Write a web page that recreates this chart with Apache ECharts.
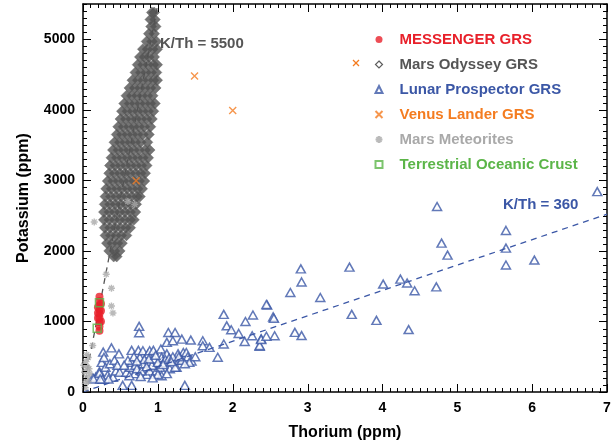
<!DOCTYPE html>
<html>
<head>
<meta charset="utf-8">
<script src="https://cdn.jsdelivr.net/npm/echarts@6/dist/echarts.min.js"></script>
<style>
  html, body { margin: 0; padding: 0; background: #fff; }
  #chart { width: 614px; height: 446px; }
</style>
</head>
<body>
<div id="chart"></div>
<script>
// Th (ppm), K (ppm) pairs

const messenger = [
  [0.22, 870], [0.22, 930], [0.22, 990], [0.22, 1050], [0.22, 1110], [0.22, 1170],
  [0.22, 1230], [0.22, 1290], [0.22, 1350], [0.20, 1050], [0.24, 1150], [0.20, 1200],
  [0.24, 1000], [0.20, 1120], [0.24, 1250],
]

const marsOdyssey = [
  [0.92, 5380], [0.95, 5380], [0.90, 5280], [0.96, 5280], [0.91, 5180], [0.97, 5180],
  [0.88, 5080], [0.95, 5080], [0.85, 4970], [0.92, 4970], [0.98, 4970],
  [0.80, 4860], [0.86, 4860], [0.93, 4860], [0.99, 4860],
  [0.76, 4750], [0.82, 4750], [0.88, 4750], [0.95, 4750],
  [0.73, 4640], [0.80, 4640], [0.87, 4640], [0.94, 4640], [0.99, 4640],
  [0.70, 4530], [0.77, 4530], [0.84, 4530], [0.91, 4530], [0.98, 4530],
  [0.66, 4420], [0.73, 4420], [0.80, 4420], [0.87, 4420], [0.94, 4420], [0.99, 4420],
  [0.62, 4310], [0.69, 4310], [0.76, 4310], [0.83, 4310], [0.90, 4310], [0.97, 4310],
  [0.58, 4200], [0.65, 4200], [0.72, 4200], [0.79, 4200], [0.86, 4200], [0.93, 4200],
  [0.55, 4090], [0.62, 4090], [0.69, 4090], [0.76, 4090], [0.83, 4090], [0.90, 4090], [0.96, 4090],
  [0.52, 3980], [0.59, 3980], [0.66, 3980], [0.73, 3980], [0.80, 3980], [0.87, 3980], [0.94, 3980],
  [0.50, 3870], [0.57, 3870], [0.64, 3870], [0.71, 3870], [0.78, 3870], [0.85, 3870], [0.92, 3870],
  [0.47, 3760], [0.54, 3760], [0.61, 3760], [0.68, 3760], [0.75, 3760], [0.82, 3760], [0.90, 3760],
  [0.45, 3650], [0.52, 3650], [0.59, 3650], [0.66, 3650], [0.73, 3650], [0.80, 3650], [0.88, 3650],
  [0.42, 3540], [0.49, 3540], [0.56, 3540], [0.63, 3540], [0.70, 3540], [0.77, 3540], [0.86, 3540],
  [0.40, 3430], [0.47, 3430], [0.54, 3430], [0.61, 3430], [0.68, 3430], [0.75, 3430], [0.83, 3430], [0.89, 3430],
  [0.38, 3320], [0.45, 3320], [0.52, 3320], [0.59, 3320], [0.66, 3320], [0.73, 3320], [0.80, 3320], [0.87, 3320],
  [0.36, 3210], [0.43, 3210], [0.50, 3210], [0.57, 3210], [0.64, 3210], [0.71, 3210], [0.78, 3210], [0.85, 3210],
  [0.35, 3100], [0.42, 3100], [0.49, 3100], [0.56, 3100], [0.63, 3100], [0.70, 3100], [0.77, 3100], [0.83, 3100],
  [0.33, 2990], [0.40, 2990], [0.47, 2990], [0.54, 2990], [0.61, 2990], [0.68, 2990], [0.75, 2990], [0.82, 2990],
  [0.31, 2880], [0.38, 2880], [0.45, 2880], [0.52, 2880], [0.59, 2880], [0.66, 2880], [0.73, 2880], [0.79, 2880],
  [0.30, 2770], [0.37, 2770], [0.44, 2770], [0.51, 2770], [0.58, 2770], [0.65, 2770], [0.72, 2770], [0.76, 2770],
  [0.29, 2660], [0.36, 2660], [0.43, 2660], [0.50, 2660], [0.57, 2660], [0.64, 2660], [0.71, 2660],
  [0.28, 2550], [0.35, 2550], [0.42, 2550], [0.49, 2550], [0.56, 2550], [0.63, 2550], [0.70, 2550],
  [0.28, 2440], [0.35, 2440], [0.42, 2440], [0.49, 2440], [0.56, 2440], [0.63, 2440], [0.68, 2440],
  [0.29, 2330], [0.36, 2330], [0.43, 2330], [0.50, 2330], [0.57, 2330], [0.63, 2330],
  [0.30, 2220], [0.37, 2220], [0.44, 2220], [0.51, 2220], [0.58, 2220],
  [0.32, 2110], [0.39, 2110], [0.46, 2110], [0.52, 2110],
  [0.35, 2000], [0.42, 2000], [0.49, 2000], [0.41, 1920], [0.45, 1920],
]

const lunarProspector = [
  [0.13, 200], [0.17, 210], [0.22, 290], [0.25, 420], [0.27, 565], [0.28, 490], [0.22, 265],
  [0.30, 350], [0.33, 240], [0.36, 400], [0.38, 625], [0.40, 210], [0.44, 300], [0.48, 540],
  [0.49, 280], [0.42, 450], [0.46, 380], [0.26, 180], [0.34, 185], [0.14, 185], [0.23, 185],
  [0.53, 94], [0.65, 94], [0.58, 280], [0.63, 350], [0.65, 590], [0.65, 420], [0.69, 260],
  [0.74, 590], [0.76, 490], [0.75, 930], [0.75, 840], [0.80, 400], [0.80, 585], [0.85, 250],
  [0.87, 540], [0.89, 585], [0.89, 300], [0.94, 590], [0.98, 300], [1.04, 610], [1.05, 490],
  [1.03, 350], [1.05, 230], [1.12, 540], [1.14, 844], [1.16, 330], [1.12, 703], [1.23, 844],
  [1.20, 727], [1.25, 350], [1.23, 450], [1.27, 540], [1.34, 560], [1.38, 560], [1.40, 500],
  [1.44, 736], [1.32, 750], [1.36, 94], [1.23, 352],
  [0.60, 450], [0.70, 380], [0.72, 330], [0.78, 300], [0.82, 460], [0.90, 430], [0.92, 380],
  [0.95, 470], [1.00, 420], [1.08, 420], [1.10, 460], [1.15, 480], [1.20, 500], [1.30, 480],
  [1.32, 450], [0.68, 500], [0.88, 470], [0.97, 520], [1.07, 390], [1.18, 430], [1.28, 500],
  [0.55, 380], [0.85, 360], [1.00, 250], [0.62, 230], [0.77, 220], [0.93, 200], [1.45, 440],
  [1.50, 500], [1.42, 420], [1.12, 260], [0.72, 440], [1.36, 400],
  [1.60, 727], [1.60, 656], [1.69, 633], [1.80, 492], [1.88, 680], [1.88, 1100], [1.92, 938],
  [1.98, 882], [2.08, 830], [2.16, 717], [2.17, 999], [2.26, 797], [2.27, 1092], [2.36, 647],
  [2.38, 755], [2.46, 1233], [2.54, 1064], [2.56, 797],
  [2.36, 660], [2.38, 745], [2.45, 790], [2.55, 1045], [2.45, 1240], [2.77, 1410], [2.83, 845],
  [2.91, 1745], [2.92, 1560], [2.92, 800], [3.17, 1340], [3.56, 1770], [3.59, 1100], [3.92, 1015],
  [4.01, 1530], [4.24, 1600], [4.33, 1545], [4.35, 885], [4.43, 1435], [4.72, 1490], [4.73, 2630],
  [4.79, 2110], [4.87, 1940], [5.65, 2290], [5.65, 2040], [5.65, 1800], [6.03, 1870], [6.87, 2840],
]

const venusLander = [[1.49, 4480], [2.0, 3990], [0.71, 2995]]

const marsMeteorites = [
  [0.60, 2700], [0.69, 2660], [0.15, 2410], [0.31, 1670], [0.38, 1470], [0.38, 1220], [0.40, 1120],
  [0.13, 660], [0.03, 120], [0.05, 200], [0.02, 280], [0.06, 350], [0.04, 430], [0.07, 490],
  [0.03, 60], [0.07, 150], [0.09, 260], [0.05, 530], [0.01, 380], [0.08, 330],
]

const oceanicCrust = [[0.22, 1266], [0.19, 905]]

// K/Th reference lines
const ratioMars = [[0, 0], [1, 5500]]
const ratioMoon = [[0, 0], [7, 2520]]

const xTicks = [0, 1, 2, 3, 4, 5, 6, 7]
const yTicks = [0, 1000, 2000, 3000, 4000, 5000]

const FONT = '"Liberation Sans", Arial, sans-serif'
const C = {
  red: '#e8202a',
  dark: '#555555',
  blue: '#3b57a6',
  orange: '#f47c20',
  light: '#a9a9a9',
  green: '#5bb548',
}
const X_PATH = 'path://M0,0L10,10M10,0L0,10'
const STAR_PATH = 'path://M5,0L5,10M0,5L10,5M1.5,1.5L8.5,8.5M8.5,1.5L1.5,8.5'
const labelStyle = { fontFamily: FONT, fontWeight: 'bold', fontSize: 14, color: '#000' }

function makeAxis(max, interval, labels, showLabels) {
  return {
    type: 'value', min: 0, max, interval,
    axisLine: { show: true, onZero: false, lineStyle: { color: '#000', width: 1.5 } },
    axisTick: { show: false },
    minorTick: { show: false },
    splitLine: { show: false },
    axisLabel: Object.assign({ show: showLabels, margin: 9,
      formatter: (v) => (labels.includes(v) ? String(v) : '') }, labelStyle),
  }
}

const xMain = makeAxis(7, 1, xTicks, true)
xMain.name = 'Thorium (ppm)'
xMain.nameLocation = 'middle'
xMain.nameGap = 33
xMain.nameTextStyle = { fontFamily: FONT, fontWeight: 'bold', fontSize: 16, color: '#000' }

const yMain = makeAxis(5500, 1000, yTicks, true)
yMain.axisLabel.margin = 8
yMain.name = 'Potassium (ppm)'
yMain.nameLocation = 'middle'
yMain.nameGap = 51
yMain.nameTextStyle = { fontFamily: FONT, fontWeight: 'bold', fontSize: 16, color: '#000' }

const legendText = (color) => ({ color, fontFamily: FONT, fontWeight: 'bold', fontSize: 15, padding: [0, 0, 0, 12] })

const annotations = [
  {
    type: 'text', left: 160, top: 36,
    style: { text: 'K/Th = 5500', fill: C.dark, font: 'bold 15px ' + FONT },
  },
  {
    type: 'text', left: 503, top: 197,
    style: { text: 'K/Th = 360', fill: C.blue, font: 'bold 15px ' + FONT },
  },
  {
    type: 'line', shape: { x1: 353, y1: 60, x2: 359, y2: 66 },
    style: { stroke: C.orange, lineWidth: 1.3 },
  },
  {
    type: 'line', shape: { x1: 359, y1: 60, x2: 353, y2: 66 },
    style: { stroke: C.orange, lineWidth: 1.3 },
  },
]

const chart = echarts.init(document.getElementById('chart'))

chart.setOption({
  animation: false,
  grid: { left: 83, right: 7, top: 4, bottom: 51 },
  xAxis: [xMain, makeAxis(7, 1, xTicks, false)],
  yAxis: [yMain, makeAxis(5500, 1000, yTicks, false)],
  legend: {
    orient: 'vertical',
    left: 368,
    top: 27,
    itemWidth: 7,
    itemHeight: 7,
    itemGap: 10,
    selectedMode: false,
    data: [
      { name: 'MESSENGER GRS', icon: 'circle', textStyle: legendText(C.red),
        itemStyle: { color: C.red } },
      { name: 'Mars Odyssey GRS', icon: 'diamond', textStyle: legendText(C.dark),
        itemStyle: { color: '#fff', borderColor: '#333', borderWidth: 1.2 } },
      { name: 'Lunar Prospector GRS', icon: 'triangle', textStyle: legendText(C.blue) },
      { name: 'Venus Lander GRS', icon: X_PATH, textStyle: legendText(C.orange) },
      { name: 'Mars Meteorites', icon: STAR_PATH, textStyle: legendText(C.light) },
      { name: 'Terrestrial Oceanic Crust', icon: 'rect', textStyle: legendText(C.green) },
    ],
  },
  series: [
    {
      type: 'line', data: ratioMars, symbol: 'none', z: 1,
      lineStyle: { color: C.dark, width: 1.3, type: [6, 5] },
    },
    {
      type: 'line', data: ratioMoon, symbol: 'none', z: 3,
      lineStyle: { color: C.blue, width: 1.3, type: [6, 5] },
    },
    {
      name: 'Mars Odyssey GRS', type: 'scatter', data: marsOdyssey, symbol: 'diamond', symbolSize: 11, z: 2,
      itemStyle: { color: '#515151', borderColor: '#626262', borderWidth: 0.5 },
    },
    {
      name: 'Lunar Prospector GRS', type: 'scatter', data: lunarProspector, symbol: 'triangle', symbolSize: [9, 8], z: 2,
      itemStyle: { color: '#fff', borderColor: C.blue, borderWidth: 1.5 },
    },
    {
      name: 'Mars Meteorites', type: 'scatter', data: marsMeteorites, symbol: STAR_PATH, symbolSize: 7, z: 4,
      itemStyle: { color: 'none', borderColor: C.light, borderWidth: 1.4 },
    },
    {
      name: 'Venus Lander GRS', type: 'scatter', data: venusLander, symbol: X_PATH, symbolSize: 7, z: 5,
      itemStyle: { color: 'none', borderColor: C.orange, borderWidth: 1.4 },
    },
    {
      name: 'MESSENGER GRS', type: 'scatter', data: messenger, symbol: 'circle', symbolSize: 8, z: 5,
      itemStyle: { color: C.red },
    },
    {
      name: 'Terrestrial Oceanic Crust', type: 'scatter', data: oceanicCrust, symbol: 'rect', symbolSize: 8, z: 6,
      itemStyle: { color: 'rgba(255,255,255,0)', borderColor: C.green, borderWidth: 1.5 },
    },
  ],
})

// inward ticks on all four sides (major every unit, minor every tenth),
// placed through the grid's own scales
const toPx = (th, k) => chart.convertToPixel({ gridIndex: 0 }, [th, k])
const [xLeft, yBottom] = toPx(0, 0)
const [xRight, yTop] = toPx(7, 5500)
const tickMarks = []
const tickLine = (x1, y1, x2, y2) => ({
  type: 'line', z: 100, silent: true,
  shape: { x1, y1, x2, y2 },
  style: { stroke: '#000', lineWidth: 1 },
})

for (let i = 0; i <= 70; i++) {
  const px = Math.round(toPx(i / 10, 0)[0]) + 0.5
  const len = i % 10 === 0 ? 8 : 4
  tickMarks.push(tickLine(px, yBottom, px, yBottom - len))
  tickMarks.push(tickLine(px, yTop, px, yTop + len))
}
for (let i = 0; i <= 55; i++) {
  const py = Math.round(toPx(0, i * 100)[1]) + 0.5
  const len = i % 10 === 0 ? 8 : 4
  tickMarks.push(tickLine(xLeft, py, xLeft + len, py))
  tickMarks.push(tickLine(xRight, py, xRight - len, py))
}

chart.setOption({ graphic: annotations.concat(tickMarks) })
</script>
</body>
</html>
